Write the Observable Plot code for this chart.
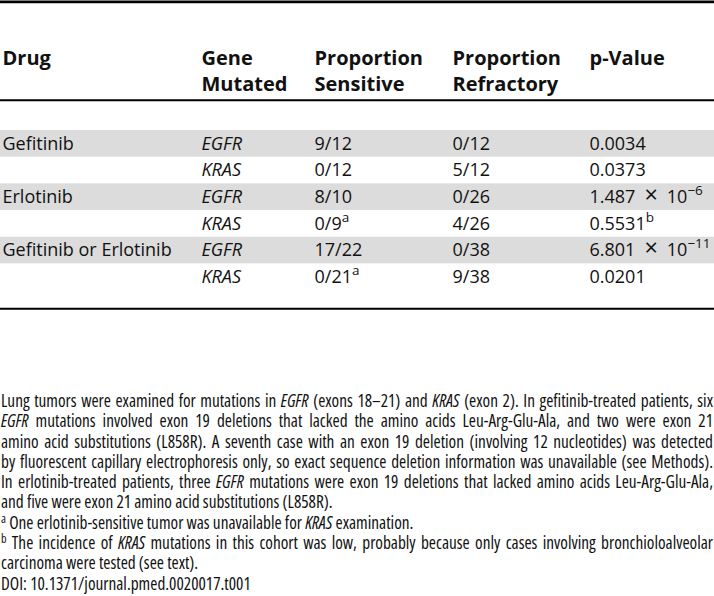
<!DOCTYPE html>
<html><head><meta charset="utf-8">
<script src="https://cdn.jsdelivr.net/npm/d3@7"></script>
<script src="https://cdn.jsdelivr.net/npm/@observablehq/plot@0.6"></script>
<style>
html,body{margin:0;padding:0;background:#fff;}
#wrap{width:714px;}
#table svg{display:block;}
#caption{font-family:"Open Sans",sans-serif;font-stretch:75%;color:#111;line-height:20.3px;width:712px;padding-left:1px;}
#caption .ln{text-align:left;}
#caption .j{text-align:justify;text-align-last:justify;}
#caption sup{font-size:0.7em;vertical-align:0.5em;line-height:0;}
</style></head><body><div id="wrap"><div id="table"></div><div id="caption"></div></div>
<script>
// ---- table content ----
const headers = ["Drug", "Gene\nMutated", "Proportion\nSensitive", "Proportion\nRefractory", "p-Value"];
const drugs = ["Gefitinib", "", "Erlotinib", "", "Gefitinib or Erlotinib", ""];
const genes = ["EGFR", "KRAS", "EGFR", "KRAS", "EGFR", "KRAS"];
const sensitive = ["9/12", "0/12", "8/10", "0/9^a", "17/22", "0/21^a"];
const refractory = ["0/12", "5/12", "0/26", "4/26", "0/38", "9/38"];
const pValues = ["0.0034", "0.0373", "1.487\u2002\u00D7\u200210^\u22126", "0.5531^b", "6.801\u2002\u00D7\u200210^\u221211", "0.0201"];
const shadedRows = [0, 2, 4];

// ---- caption content ----
const captionLines = [
  "Lung tumors were examined for mutations in _EGFR_ (exons 18\u201321) and _KRAS_ (exon 2). In gefitinib-treated patients, six",
  "_EGFR_ mutations involved exon 19 deletions that lacked the amino acids Leu-Arg-Glu-Ala, and two were exon 21",
  "amino acid substitutions (L858R). A seventh case with an exon 19 deletion (involving 12 nucleotides) was detected",
  "by fluorescent capillary electrophoresis only, so exact sequence deletion information was unavailable (see Methods).",
  "In erlotinib-treated patients, three _EGFR_ mutations were exon 19 deletions that lacked amino acids Leu-Arg-Glu-Ala,",
  "and five were exon 21 amino acid substitutions (L858R).",
  "^a One erlotinib-sensitive tumor was unavailable for _KRAS_ examination.",
  "^b The incidence of _KRAS_ mutations in this cohort was low, probably because only cases involving bronchioloalveolar",
  "carcinoma were tested (see text).",
  "DOI: 10.1371/journal.pmed.0020017.t001"
];
const justifiedLines = [0, 1, 2, 3, 4, 7];

// ---- layout ----
const L = {
  width: 714, height: 391,
  colX: [2, 201, 314, 452, 589],
  headTop: 45.8, headLineHeight: 1.3,
  rowTop: 130, rowH: 26.67,
  ruleTop: 1.35, ruleHead: 99.7, ruleBottom: 308.3,
  ink: "#111", band: "#dcdcdc",
  bodySize: 18, headSize: 20
};

const rows = drugs.map((drug, i) => ({i, drug, gene: genes[i], sens: sensitive[i], refr: refractory[i], p: pValues[i]}));
const yMid = d => L.rowTop + (d.i + 0.5) * L.rowH;
const cellText = (key, col, extra = {}) => Plot.text(rows, {
  x: L.colX[col], y: yMid, text: key, textAnchor: "start", fill: L.ink, fontSize: L.bodySize, ...extra
});

const chart = Plot.plot({
  width: L.width, height: L.height,
  marginTop: 0, marginRight: 0, marginBottom: 0, marginLeft: 0,
  x: {domain: [0, L.width], range: [0, L.width], axis: null},
  y: {domain: [0, L.height], range: [0, L.height], axis: null},
  style: {fontFamily: "'Open Sans', sans-serif", background: "#fff"},
  marks: [
    Plot.rect(rows.filter(d => shadedRows.includes(d.i)), {
      x1: 0, x2: L.width,
      y1: d => L.rowTop + d.i * L.rowH, y2: d => L.rowTop + (d.i + 1) * L.rowH,
      fill: L.band
    }),
    Plot.ruleY([L.ruleTop], {stroke: "#000", strokeWidth: 2.7}),
    Plot.ruleY([L.ruleHead, L.ruleBottom], {stroke: "#000", strokeWidth: 2}),
    Plot.text(headers, {
      x: (d, i) => L.colX[i], y: L.headTop, text: d => d, textAnchor: "start",
      lineAnchor: "top", lineHeight: L.headLineHeight, fontWeight: "bold",
      fontSize: L.headSize, fill: L.ink
    }),
    cellText("drug", 0),
    cellText("gene", 1, {fontStyle: "italic"}),
    cellText("sens", 2),
    cellText("refr", 3),
    cellText("p", 4)
  ]
});
document.getElementById("table").appendChild(chart);

// superscripts and larger multiplication sign in table cells
const SVGNS = "http://www.w3.org/2000/svg";
chart.querySelectorAll("text").forEach(t => {
  const targets = t.querySelector("tspan") ? [...t.querySelectorAll("tspan")] : [t];
  for (const el of targets) {
    const s = el.textContent;
    if (!s.includes("^") && !s.includes("\u00D7")) continue;
    const [main, sup] = s.split("^");
    el.textContent = "";
    main.split(/(\u00D7)/).forEach(part => {
      if (part === "\u00D7") {
        const x = document.createElementNS(SVGNS, "tspan");
        x.setAttribute("font-size", "1.3em");
        x.textContent = part;
        el.appendChild(x);
        const rest = document.createElementNS(SVGNS, "tspan");
        rest.setAttribute("font-size", "1em");
        el.appendChild(rest);
      } else if (part) {
        el.appendChild(document.createTextNode(part));
      }
    });
    if (sup !== undefined) {
      const ts = document.createElementNS(SVGNS, "tspan");
      ts.setAttribute("font-size", "0.75em");
      ts.setAttribute("dy", "-0.6em");
      ts.textContent = sup;
      el.appendChild(ts);
    }
  }
});

// caption
const cap = document.getElementById("caption");
const toHTML = s => s.replace(/_([^_]+)_/g, "<i>$1</i>").replace(/\^(\w+)/g, "<sup>$1</sup>");
const lineEls = captionLines.map((s, i) => {
  const div = document.createElement("div");
  div.className = "ln" + (justifiedLines.includes(i) ? " j" : "");
  div.innerHTML = toHTML(s);
  cap.appendChild(div);
  return div;
});
function natural(el) {
  el.style.width = "max-content";
  const w = el.getBoundingClientRect().width;
  el.style.width = "";
  return w;
}
let fs = 15;
cap.style.fontSize = fs + "px";
fs = fs * 250 / natural(lineEls[lineEls.length - 1]);
cap.style.fontSize = fs + "px";
const maxW = Math.max(...lineEls.map(natural));
if (maxW > 711) fs = fs * 711 / maxW;
cap.style.fontSize = Math.min(fs, 17.5) + "px";
</script>
</body></html>
